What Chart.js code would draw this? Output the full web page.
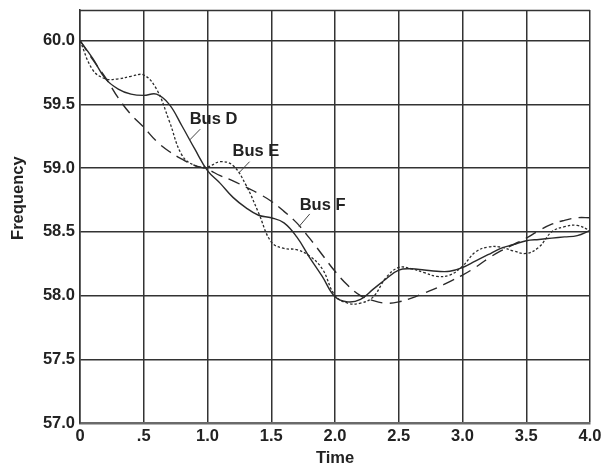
<!DOCTYPE html>
<html>
<head>
<meta charset="utf-8">
<script src="https://cdn.jsdelivr.net/npm/chart.js@4"></script>
<style>
  html, body { margin: 0; padding: 0; background: #fff; }
  #wrap { width: 601px; height: 466px; }
</style>
</head>
<body>
<div id="wrap"><canvas id="c" width="601" height="466"></canvas></div>
<script>
// ---- data ----
const times = [0.0,0.1,0.2,0.3,0.4,0.5,0.6,0.7,0.8,0.9,1.0,1.1,1.2,1.3,1.4,1.5,1.6,1.7,1.8,1.9,2.0,
               2.1,2.2,2.3,2.4,2.5,2.6,2.7,2.8,2.9,3.0,3.1,3.2,3.3,3.4,3.5,3.6,3.7,3.8,3.9,4.0];
const busD = [60.00,59.86,59.70,59.62,59.58,59.57,59.58,59.50,59.33,59.15,58.98,
              58.88,58.77,58.69,58.63,58.61,58.57,58.46,58.30,58.15,57.99,
              57.95,57.97,58.05,58.13,58.20,58.21,58.20,58.19,58.19,58.22,
              58.27,58.32,58.37,58.40,58.43,58.44,58.45,58.46,58.47,58.51];
const busE = [60.00,59.77,59.70,59.70,59.72,59.73,59.62,59.37,59.10,59.02,59.01,
              59.05,59.02,58.87,58.65,58.42,58.37,58.36,58.31,58.21,58.00,
              57.94,57.94,57.99,58.14,58.22,58.21,58.18,58.15,58.16,58.23,
              58.34,58.38,58.38,58.35,58.33,58.38,58.50,58.54,58.55,58.51];
const busF = [60.00,59.85,59.71,59.55,59.42,59.32,59.21,59.13,59.07,59.02,58.99,
              58.94,58.90,58.85,58.80,58.74,58.66,58.57,58.45,58.32,58.19,
              58.08,58.00,57.96,57.94,57.95,57.98,58.02,58.06,58.11,58.16,
              58.22,58.29,58.35,58.40,58.45,58.51,58.56,58.59,58.61,58.61];
const xTicks = [0, 0.5, 1.0, 1.5, 2.0, 2.5, 3.0, 3.5, 4.0];
const xTickLabels = ['0', '.5', '1.0', '1.5', '2.0', '2.5', '3.0', '3.5', '4.0'];
const yTicks = [57.0, 57.5, 58.0, 58.5, 59.0, 59.5, 60.0];
const yTickLabels = ['57.0', '57.5', '58.0', '58.5', '59.0', '59.5', '60.0'];
const seriesNames = ['Bus D', 'Bus E', 'Bus F'];
// callout labels: text anchor (time, freq) and leader line from -> to, in data units
const calloutText = [[0.86, 59.38], [1.197, 59.13], [1.723, 58.71]];
const calloutLineFrom = [[0.943, 59.305], [1.33, 59.05], [1.802, 58.64]];
const calloutLineTo = [[0.86, 59.22], [1.244, 58.96], [1.717, 58.54]];

const FONT = 'Liberation Sans, Arial, Helvetica, sans-serif';
const INK = '#222';

const toPts = arr => times.map((t, i) => ({ x: t, y: arr[i] }));

const calloutPlugin = {
  id: 'callouts',
  beforeDatasetsDraw(chart) {
    const { ctx, chartArea: a } = chart;
    ctx.save();
    ctx.strokeStyle = '#333';
    ctx.lineWidth = 1.5;
    ctx.beginPath();
    ctx.moveTo(a.left, a.top + 0.5);
    ctx.lineTo(a.right, a.top + 0.5);
    ctx.stroke();
    ctx.restore();
  },
  afterDatasetsDraw(chart) {
    const { ctx } = chart;
    const xs = chart.scales.x, ys = chart.scales.y;
    ctx.save();
    ctx.font = 'bold 16.5px ' + FONT;
    ctx.fillStyle = INK;
    ctx.textBaseline = 'middle';
    ctx.textAlign = 'left';
    ctx.strokeStyle = '#444';
    ctx.lineWidth = 1;
    seriesNames.forEach((name, i) => {
      ctx.fillText(name, xs.getPixelForValue(calloutText[i][0]), ys.getPixelForValue(calloutText[i][1]));
      ctx.beginPath();
      ctx.moveTo(xs.getPixelForValue(calloutLineFrom[i][0]), ys.getPixelForValue(calloutLineFrom[i][1]));
      ctx.lineTo(xs.getPixelForValue(calloutLineTo[i][0]), ys.getPixelForValue(calloutLineTo[i][1]));
      ctx.stroke();
    });
    ctx.restore();
  }
};

new Chart(document.getElementById('c'), {
  type: 'line',
  data: {
    datasets: [
      { label: seriesNames[0], data: toPts(busD), borderColor: '#2a2a2a', borderWidth: 1.4,
        pointRadius: 0, tension: 0.4, fill: false },
      { label: seriesNames[1], data: toPts(busE), borderColor: '#2a2a2a', borderWidth: 1.3,
        borderDash: [2.5, 2], pointRadius: 0, tension: 0.4, fill: false },
      { label: seriesNames[2], data: toPts(busF), borderColor: '#2a2a2a', borderWidth: 1.4,
        borderDash: [12, 7], pointRadius: 0, tension: 0.4, fill: false }
    ]
  },
  options: {
    responsive: false,
    animation: false,
    layout: { padding: { top: 10, right: 11, left: 0, bottom: 0 } },
    plugins: { legend: { display: false }, tooltip: { enabled: false } },
    scales: {
      x: {
        type: 'linear', min: 0, max: 4,
        afterBuildTicks: s => { s.ticks = xTicks.map(v => ({ value: v })); },
        afterFit: s => { s.height = 43; s.paddingRight = 0; s.paddingLeft = 0; },
        ticks: {
          autoSkip: false, maxRotation: 0, padding: 4, color: INK,
          font: { family: FONT, size: 16.5, weight: 'bold' },
          callback: (v, i) => xTickLabels[i]
        },
        grid: { color: '#333', lineWidth: 1.5, drawTicks: false },
        border: { display: true, color: '#6a6a6a', width: 2.5 },
        title: { display: true, text: 'Time', color: INK, padding: { top: 0, bottom: -2 },
                 font: { family: FONT, size: 16.5, weight: 'bold' } }
      },
      y: {
        type: 'linear', min: 57, max: 60.24,
        afterBuildTicks: s => { s.ticks = yTicks.map(v => ({ value: v })); },
        afterFit: s => { s.width = 80; s.paddingTop = 0; s.paddingBottom = 0; },
        ticks: {
          autoSkip: false, padding: 5, color: INK,
          font: { family: FONT, size: 16.5, weight: 'bold' },
          callback: (v, i) => yTickLabels[i]
        },
        grid: { color: '#333', lineWidth: 1.5, drawTicks: false },
        border: { display: true, color: '#333', width: 1.5 },
        title: { display: true, text: '        Frequency', color: INK, padding: { top: 9, bottom: 0 },
                 font: { family: FONT, size: 16.5, weight: 'bold' } }
      }
    }
  },
  plugins: [calloutPlugin]
});
</script>
</body>
</html>
